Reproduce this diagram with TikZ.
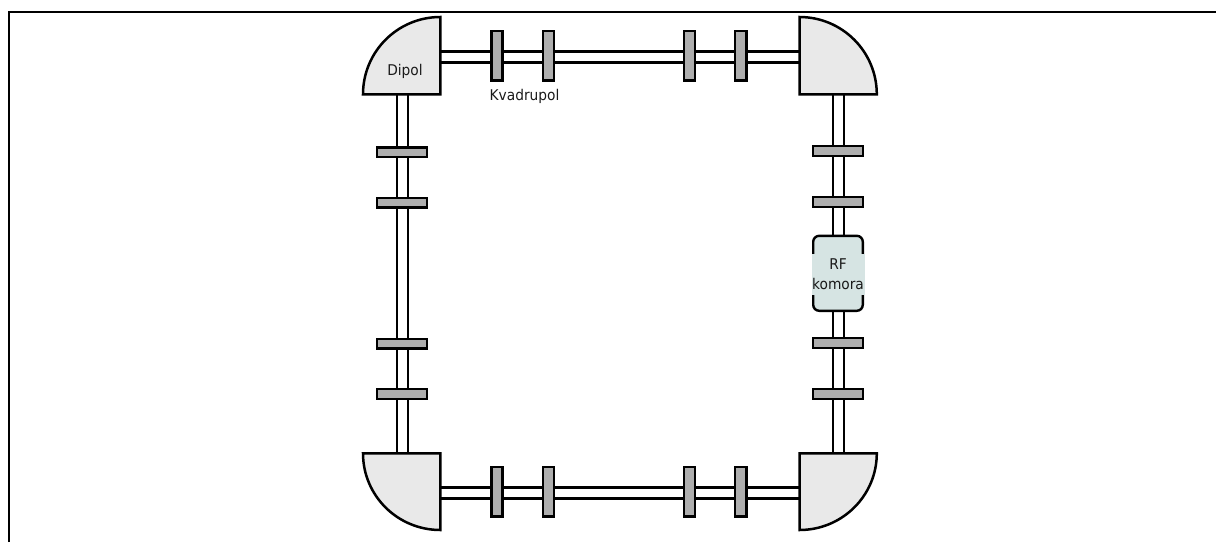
\documentclass[tikz,border=0pt]{standalone}
\usepackage{fontspec}
\setmainfont{DejaVu Sans}[FakeStretch=0.93]
\definecolor{quadfill}{HTML}{AEAEAE}
\definecolor{dipfill}{HTML}{E9E9E9}
\definecolor{rffill}{HTML}{D6E4E3}
\definecolor{txt}{HTML}{1A1A1A}
\tikzset{
  pipe/.style={draw=black,line width=2.4pt,double=white,double distance=8.6pt},
  quadh/.style={draw=black,line width=2.4pt,fill=quadfill,minimum width=11.2pt,minimum height=49.6pt,inner sep=0pt,outer sep=0pt},
  quadv/.style={draw=black,line width=2.4pt,fill=quadfill,minimum width=50pt,minimum height=9.6pt,inner sep=0pt,outer sep=0pt},
  dipole/.style={draw=black,line width=2.5pt,fill=dipfill,line join=miter},
  rfbox/.style={draw=black,line width=2.4pt,fill=rffill,rounded corners=6pt,minimum width=49.6pt,minimum height=75pt,inner sep=0pt,outer sep=0pt},
  lbl/.style={font=\fontsize{14.8pt}{20.5pt}\selectfont,text=txt,inner sep=0pt,align=center},
  frameline/.style={draw=black,line width=2.2pt}
}
\begin{document}
\begin{tikzpicture}[x=1pt,y=-1pt]
\useasboundingbox (0,0) rectangle (1216,542);
\coordinate (fa) at (9,542);
\coordinate (fb) at (9,12);
\coordinate (fc) at (1216,12);
\draw[frameline] (fa) -- (fb) -- (fc);
% anchors on the dipoles
\coordinate (tle) at (440,57);
\coordinate (tls) at (402.4,94);
\coordinate (trw) at (799.5,57);
\coordinate (trs) at (838.4,94);
\coordinate (ble) at (440,493);
\coordinate (bln) at (402.4,453);
\coordinate (brw) at (799.5,493);
\coordinate (brn) at (838.4,453);
% pipes
\draw[pipe] (tle) -- (trw);
\draw[pipe] (ble) -- (brw);
\draw[pipe] (tls) -- (bln);
\draw[pipe] (trs) -- (brn);
% quadrupoles
\node[quadh] (t1) at (497,55.5) {};
\node[quadh] (t2) at (548.3,55.5) {};
\node[quadh] (t3) at (689.5,55.5) {};
\node[quadh] (t4) at (740.8,55.5) {};
\node[quadh] (b1) at (497,491.5) {};
\node[quadh] (b2) at (548.3,491.5) {};
\node[quadh] (b3) at (689.5,491.5) {};
\node[quadh] (b4) at (740.8,491.5) {};
\node[quadv] (l1) at (401.7,152.3) {};
\node[quadv] (l2) at (401.7,202.5) {};
\node[quadv] (l3) at (401.7,343.5) {};
\node[quadv] (l4) at (401.7,394) {};
\node[quadv] (r1) at (838,151) {};
\node[quadv] (r2) at (838,202) {};
\node[quadv] (r3) at (838,343) {};
\node[quadv] (r4) at (838,394) {};
\node[rfbox] (rf) at (838,273.3) {};
\node[lbl,fill=rffill,minimum width=53pt,minimum height=41pt] (rft) at (838,274) {RF\\komora};
% dipoles
\draw[dipole] (440.3,17) -- (440.3,94.3) -- (363,94.3) .. controls (363,51.6) and (397.6,17) .. cycle;
\draw[dipole] (799.5,17) -- (799.5,94.3) -- (876.8,94.3) .. controls (876.8,51.6) and (842.2,17) .. cycle;
\draw[dipole] (440.3,530) -- (440.3,453.3) -- (363,453.3) .. controls (363,495.7) and (397.6,530) .. cycle;
\draw[dipole] (799.5,530) -- (799.5,453.3) -- (876.8,453.3) .. controls (876.8,495.7) and (842.2,530) .. cycle;
% labels
\node[lbl] (dip) at (405,71.5) {Dipol};
\node[lbl] (kv) at (524.5,96) {Kvadrupol};
\end{tikzpicture}
\end{document}
